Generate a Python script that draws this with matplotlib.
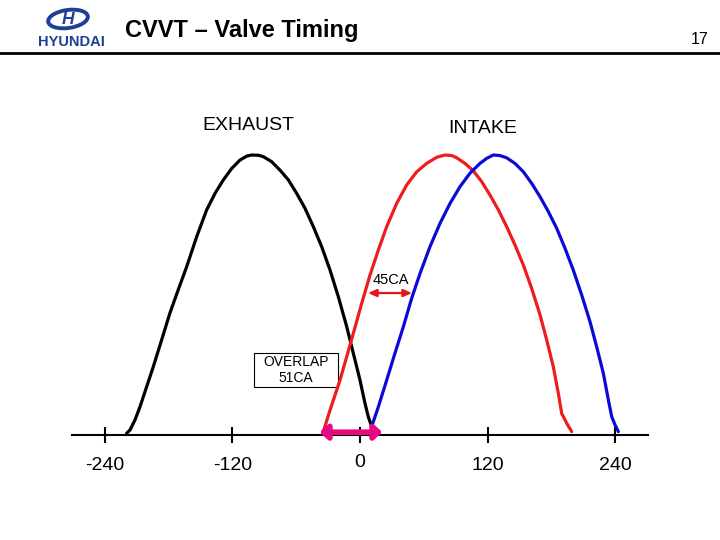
import matplotlib
matplotlib.use("Agg")
import matplotlib.pyplot as plt
from matplotlib.patches import Ellipse, Rectangle
from matplotlib.lines import Line2D

plt.rcParams['font.family'] = ['Liberation Sans', 'DejaVu Sans']

# crank angle (deg) and valve lift (relative, peak = 10)
exhaust_deg = [-219.6, -216.4, -211.7, -207.0, -200.7, -194.5, -186.7, -178.9,
               -171.1, -163.1, -153.7, -144.3, -136.4, -128.6, -120.7, -112.9,
               -106.6, -101.9, -95.6, -90.9, -83.1, -75.3, -67.4, -59.6, -51.8,
               -43.9, -36.1, -28.2, -20.4, -12.5, -6.3, 0.0, 4.7, 7.8, 11.0, 14.1]
exhaust_lift = [0.06, 0.18, 0.54, 1.01, 1.73, 2.44, 3.39, 4.35, 5.18, 6.01, 7.08,
                8.04, 8.63, 9.11, 9.52, 9.82, 9.96, 10.0, 9.99, 9.94, 9.76, 9.46,
                9.11, 8.63, 8.10, 7.44, 6.73, 5.89, 4.94, 3.87, 2.92, 1.96, 1.13,
                0.65, 0.30, 0.18]

intake_adv_deg = [-34.5, -28.2, -18.8, -12.5, -6.3, 1.6, 9.4, 17.3, 25.1, 34.5,
                  43.9, 53.4, 62.7, 72.2, 80.0, 86.3, 91.0, 98.8, 106.7, 114.5,
                  122.3, 130.2, 138.0, 145.8, 153.7, 161.5, 169.4, 175.7, 181.9,
                  186.6, 189.8, 194.5, 199.2]
intake_adv_lift = [0.12, 0.89, 1.96, 2.80, 3.63, 4.70, 5.71, 6.61, 7.44, 8.27,
                   8.93, 9.40, 9.70, 9.92, 10.0, 9.98, 9.90, 9.70, 9.43, 9.05,
                   8.57, 8.04, 7.44, 6.79, 6.07, 5.24, 4.29, 3.39, 2.44, 1.49,
                   0.77, 0.42, 0.12]

intake_ret_deg = [11.0, 17.3, 25.1, 32.9, 40.8, 48.6, 56.5, 65.9, 75.3, 84.7,
                  94.1, 103.5, 112.9, 119.2, 125.5, 131.7, 138.0, 145.8, 153.7,
                  161.5, 169.4, 177.2, 185.1, 192.9, 200.7, 208.6, 216.4, 222.7,
                  229.0, 233.7, 236.9, 240.0, 243.1]
intake_ret_lift = [0.30, 1.01, 1.96, 2.92, 3.87, 4.88, 5.77, 6.73, 7.56, 8.27,
                   8.87, 9.35, 9.70, 9.88, 10.0, 9.98, 9.90, 9.70, 9.40, 8.99,
                   8.51, 7.98, 7.38, 6.67, 5.89, 5.00, 4.05, 3.15, 2.20, 1.25,
                   0.65, 0.36, 0.12]

tick_deg = [-240, -120, 0, 120, 240]
tick_labels = ['-240', '-120', '0', '120', '240']

overlap_start, overlap_end = -38, 21
shift_from, shift_to, shift_lift = 7.5, 49, 5.07

fig = plt.figure(figsize=(7.2, 5.4), dpi=100)

# header: logo, title, page number, rule
logo = fig.add_axes([36 / 720, 1 - 50 / 540, 70 / 720, 48 / 540])
logo.set_xlim(0, 70)
logo.set_ylim(48, 0)
logo.axis('off')
logo.add_patch(Ellipse((32, 17), 40, 18, angle=-8, fill=False,
                       edgecolor='#1d3f95', lw=2.8))
logo.text(32, 17.5, 'H', color='#1d3f95', fontsize=12.5, fontweight='bold',
          style='italic', ha='center', va='center')
logo.text(35, 40, 'HYUNDAI', color='#1d3f95', fontsize=10.5, fontweight='bold',
          ha='center', va='center')

fig.text(125 / 720, 1 - 30 / 540, 'CVVT \u2013 Valve Timing', fontsize=17,
         fontweight='bold', ha='left', va='center')
fig.text(700 / 720, 1 - 39 / 540, '17', fontsize=11.5, ha='center', va='center')
fig.add_artist(Line2D([0, 1], [1 - 53 / 540, 1 - 53 / 540], color='black',
                      lw=2, transform=fig.transFigure))

# main chart
ax = fig.add_axes([72 / 720, 105 / 540, 576 / 720, 280 / 540])
ax.set_xlim(-271, 271)
ax.set_ylim(0, 10)
for s in ['left', 'top', 'right']:
    ax.spines[s].set_visible(False)
ax.spines['bottom'].set_linewidth(1.5)
ax.set_yticks([])
ax.set_xticks(tick_deg)
ax.set_xticklabels(tick_labels)
ax.tick_params(axis='x', direction='inout', length=12, width=1.5,
               labelsize=14, pad=10)
for lbl in ax.get_xticklabels():
    if lbl.get_text() == '0':
        lbl.set_y(0.012)

ax.plot(exhaust_deg, exhaust_lift, color='black', lw=2.3, clip_on=False,
        solid_joinstyle='round', solid_capstyle='round')
ax.plot(intake_adv_deg, intake_adv_lift, color='#ee1c1c', lw=2.3, clip_on=False,
        solid_joinstyle='round', solid_capstyle='round')
ax.plot(intake_ret_deg, intake_ret_lift, color='#0a0ad8', lw=2.3, clip_on=False,
        solid_joinstyle='round', solid_capstyle='round')

ax.text(-105, 11.05, 'EXHAUST', fontsize=14, ha='center', va='center')
ax.text(115, 10.95, 'INTAKE', fontsize=14, ha='center', va='center')

# 45CA cam shift
ax.annotate('', xy=(shift_to, shift_lift), xytext=(shift_from, shift_lift),
            arrowprops=dict(arrowstyle='<|-|>,head_length=0.5,head_width=0.22',
                            color='#e8141b', lw=1.6, shrinkA=0, shrinkB=0))
ax.text(29, 5.55, '45CA', fontsize=10.5, ha='center', va='center')

# overlap
ax.annotate('', xy=(overlap_end, 0.1), xytext=(overlap_start, 0.1),
            arrowprops=dict(arrowstyle='<|-|>,head_length=0.45,head_width=0.42',
                            color='#e8087f', lw=4, shrinkA=0, shrinkB=0),
            annotation_clip=False)
ax.add_patch(Rectangle((-99.7, 1.71), 79, 1.22, fill=False, edgecolor='black',
                       lw=0.8, clip_on=False))
ax.text(-60.2, 2.32, 'OVERLAP\n51CA', fontsize=10, ha='center', va='center',
        linespacing=1.15)

fig.savefig('out.png', dpi=100)
